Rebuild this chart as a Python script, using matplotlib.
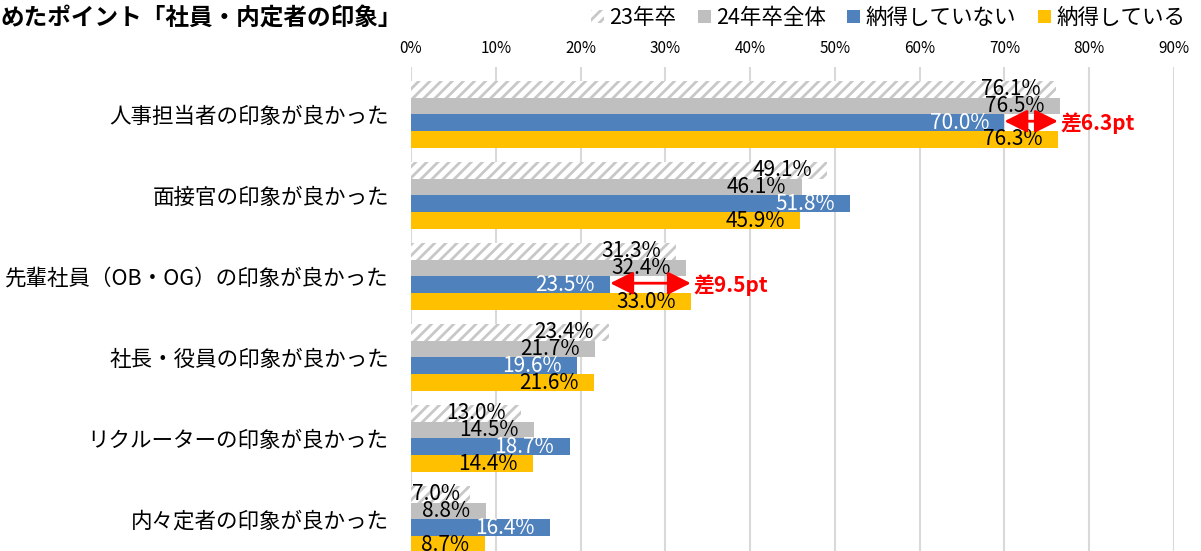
import numpy as np
import matplotlib
matplotlib.use("Agg")
import matplotlib.pyplot as plt
from matplotlib.patches import Patch

plt.rcParams['font.family'] = ['Noto Sans CJK JP', 'DejaVu Sans']
plt.rcParams['hatch.linewidth'] = 2.0

# data
categories = ['人事担当者の印象が良かった', '面接官の印象が良かった', '先輩社員（OB・OG）の印象が良かった',
              '社長・役員の印象が良かった', 'リクルーターの印象が良かった', '内々定者の印象が良かった']
series_names = ['23年卒', '24年卒全体', '納得していない', '納得している']
grad23 = [76.1, 49.1, 31.3, 23.4, 13.0, 7.0]
grad24_all = [76.5, 46.1, 32.4, 21.7, 14.5, 8.8]
not_convinced = [70.0, 51.8, 23.5, 19.6, 18.7, 16.4]
convinced = [76.3, 45.9, 33.0, 21.6, 14.4, 8.7]
xticks = [0, 10, 20, 30, 40, 50, 60, 70, 80, 90]
gaps = [(0, '差6.3pt'), (2, '差9.5pt')]

series = [grad23, grad24_all, not_convinced, convinced]
face = ['white', '#bfbfbf', '#4f81bd', '#ffc000']
hatch = ['///', None, None, None]
edge = ['#c8c8c8', '#bfbfbf', '#4f81bd', '#ffc000']
lbl_color = ['black', 'black', 'white', 'black']

W, H = 1201, 551
fig = plt.figure(figsize=(W / 100, H / 100), dpi=100)
ax = fig.add_axes([411 / W, 0, (1174 - 411) / W, 1 - 67 / H])

h = 0.206
y = np.arange(len(categories))
for k, vals in enumerate(series):
    yy = y + (k - 1.5) * h
    ax.barh(yy, np.array(vals) / 100, height=h, color=face[k], hatch=hatch[k],
            edgecolor=edge[k], linewidth=0, zorder=2)
    for yi, v in zip(yy, vals):
        if v < 8:
            # label does not fit inside: keep it from running past the axis start
            ax.annotate(f'{v:.1f}%', (0, yi), xytext=(1, 0), textcoords='offset points',
                        ha='left', va='center', fontsize=15, color=lbl_color[k], zorder=4)
        else:
            ax.annotate(f'{v:.1f}%', (v / 100, yi), xytext=(-11, 0), textcoords='offset points',
                        ha='right', va='center', fontsize=15, color=lbl_color[k], zorder=4)

# difference arrows
for gi, txt in gaps:
    yy = gi + 0.5 * h
    a = not_convinced[gi] / 100
    b = convinced[gi] / 100
    ax.annotate('', xy=(b, yy - 0.02), xytext=(a, yy - 0.02),
                arrowprops=dict(arrowstyle='<|-|>,head_length=1.0,head_width=0.5',
                                color='#ff0000', lw=2, mutation_scale=14,
                                shrinkA=0, shrinkB=0), zorder=5)
    ax.annotate(txt, (b, yy), xytext=(2, 0), textcoords='offset points',
                ha='left', va='center', fontsize=15, fontweight='bold', color='#ff0000', zorder=5)

ax.set_xlim(0, 0.9)
ax.set_ylim(5.389, -0.586)
ax.set_xticks(np.array(xticks) / 100)
ax.set_xticklabels([f'{t}%' for t in xticks], fontsize=11)
ax.xaxis.tick_top()
ax.tick_params(axis='x', length=0, pad=7)
ax.set_yticks(y)
ax.set_yticklabels(categories, fontsize=15.5)
ax.tick_params(axis='y', length=0, pad=16)
ax.grid(axis='x', color='#d9d9d9', lw=1.5, zorder=0)
for s in ax.spines.values():
    s.set_visible(False)

fig.text(0, 1 - 18 / H, 'めたポイント「社員・内定者の印象」', ha='left', va='center',
         fontsize=17, fontweight='bold')

handles = [Patch(facecolor=face[k], hatch=hatch[k], edgecolor=edge[k], linewidth=0)
           for k in range(4)]
fig.legend(handles, series_names, loc='center right', bbox_to_anchor=(1185 / W, 1 - 18 / H),
           ncol=4, frameon=False, fontsize=15.5, handlelength=0.6, handleheight=0.6,
           handletextpad=0.25, columnspacing=1.0, borderpad=0, borderaxespad=0)

fig.savefig('out.png', dpi=100)
